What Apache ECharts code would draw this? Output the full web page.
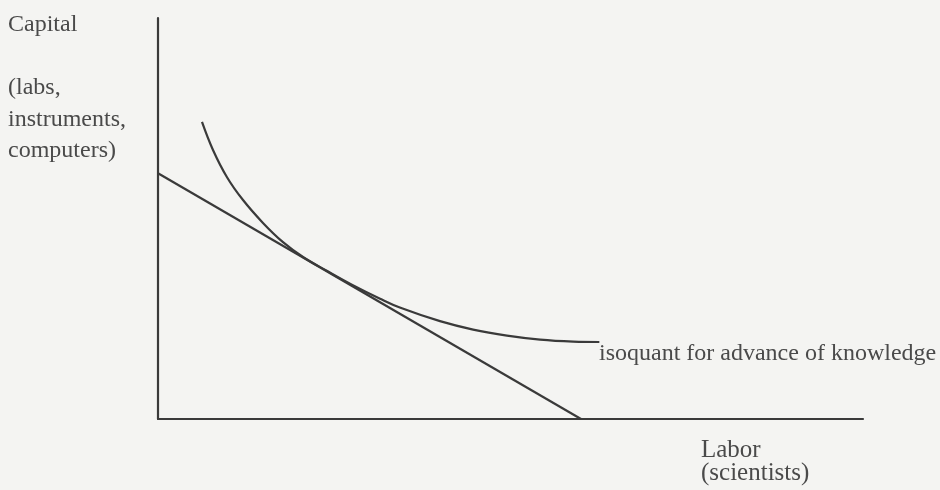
<!DOCTYPE html>
<html>
<head>
<meta charset="utf-8">
<script src="https://cdn.jsdelivr.net/npm/echarts@6/dist/echarts.min.js"></script>
<style>
html,body{margin:0;padding:0;background:#f4f4f2;}
#chart{width:940px;height:490px;}
</style>
</head>
<body>
<div id="chart"></div>
<script>
// Budget (iso-cost) line endpoints: [labor, capital]
const budgetLine = [[0, 61.3], [60.0, 0]];
// Isoquant curve points: [labor, capital]
const isoquant = [
  [6.24, 74.1], [7.80, 67.1], [9.79, 60.3], [12.06, 54.6], [14.89, 48.9],
  [17.73, 44.1], [20.57, 40.4], [24.0, 36.9], [27.5, 33.5], [31.5, 30.0],
  [34.3, 27.8], [40.0, 24.4], [44.7, 22.3], [49.5, 20.8], [54.2, 19.8],
  [58.9, 19.3], [62.6, 19.2]
];
const yAxisLabel = 'Capital\n\n(labs,\ninstruments,\ncomputers)';
const xAxisLabel = 'Labor\n(scientists)';
const curveLabel = 'isoquant for advance of knowledge';

const font = '24px "Liberation Serif", "Times New Roman", serif';
const fontLabor = '25px "Liberation Serif", "Times New Roman", serif';
const textColor = '#4a4a4a';
const lineColor = '#3a3a3a';

const chart = echarts.init(document.getElementById('chart'));
chart.setOption({
  backgroundColor: '#f4f4f2',
  animation: false,
  grid: {left: 158, right: 77, top: 18, bottom: 71},
  xAxis: {
    type: 'value', min: 0, max: 100,
    axisLine: {show: true, onZero: false, lineStyle: {color: lineColor, width: 2.2}},
    axisTick: {show: false}, axisLabel: {show: false}, splitLine: {show: false}
  },
  yAxis: {
    type: 'value', min: 0, max: 100,
    axisLine: {show: true, onZero: false, lineStyle: {color: lineColor, width: 2.2}},
    axisTick: {show: false}, axisLabel: {show: false}, splitLine: {show: false}
  },
  series: [
    {
      type: 'line', data: budgetLine, showSymbol: false, symbol: 'none',
      lineStyle: {color: lineColor, width: 2.2}
    },
    {
      type: 'line', data: isoquant, showSymbol: false, symbol: 'none',
      smooth: 0.4,
      lineStyle: {color: lineColor, width: 2.2}
    }
  ],
  graphic: [
    {type: 'text', left: 8, top: 9, style: {text: yAxisLabel, font: font, fill: textColor, lineHeight: 31.5}},
    {type: 'text', left: 701, top: 438, style: {text: xAxisLabel, font: fontLabor, fill: textColor, lineHeight: 23}},
    {type: 'text', left: 599, top: 342, style: {text: curveLabel, font: font, fill: textColor, lineHeight: 24}}
  ]
});
</script>
</body>
</html>
